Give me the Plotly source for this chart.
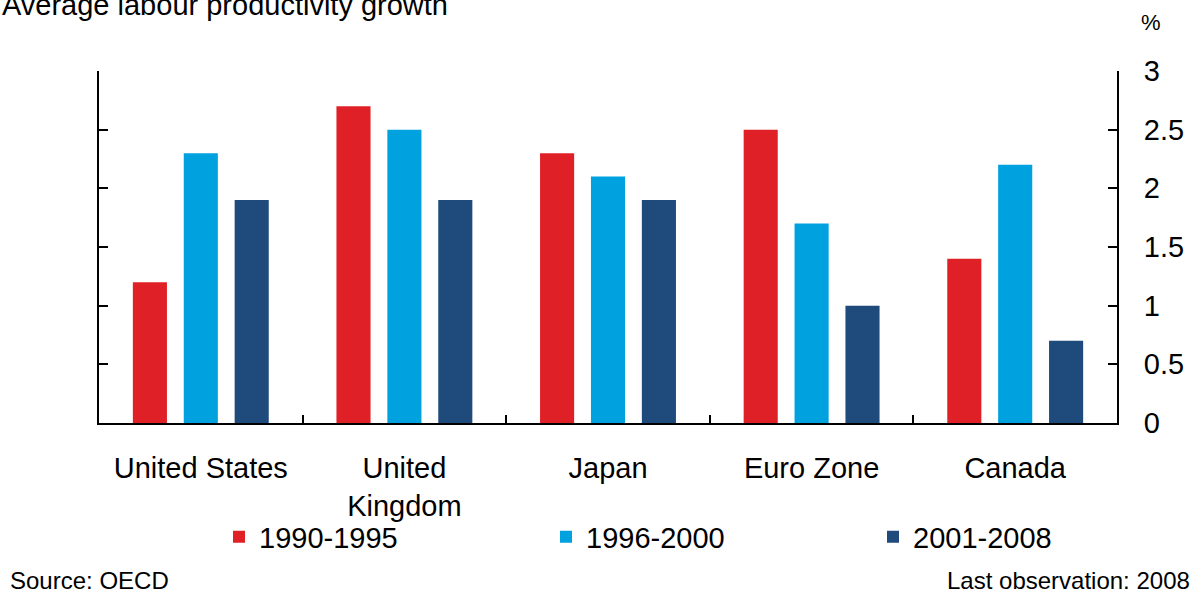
import plotly.graph_objects as go

categories = ["United States", "United<br>Kingdom", "Japan", "Euro Zone", "Canada"]
series_names = ["1990-1995", "1996-2000", "2001-2008"]
vals_1990_1995 = [1.2, 2.7, 2.3, 2.5, 1.4]
vals_1996_2000 = [2.3, 2.5, 2.1, 1.7, 2.2]
vals_2001_2008 = [1.9, 1.9, 1.9, 1.0, 0.7]
colors = ["#E02027", "#00A1DF", "#1F4A7C"]
y_ticks = [0, 0.5, 1, 1.5, 2, 2.5, 3]

FONT = "Liberation Sans, Arial, sans-serif"

W, H = 1202, 595
L, R, T, B = 99, 1202 - 1117, 71, 595 - 423
ph = H - T - B
pw = W - L - R

legend_ids = ["legend", "legend2", "legend3"]
legend_px = [219, 546, 873]

fig = go.Figure()
for name, vals, col, lid in zip(series_names, [vals_1990_1995, vals_1996_2000, vals_2001_2008], colors, legend_ids):
    fig.add_trace(go.Bar(x=categories, y=vals, name=name, legend=lid,
                         marker=dict(color=col, line=dict(width=0))))

legend_common = dict(orientation="h", xanchor="left",
                     y=-(537 - 423) / ph, yanchor="middle",
                     font=dict(family=FONT, size=29, color="black"),
                     itemwidth=30, bgcolor="rgba(0,0,0,0)")

fig.update_layout(
    width=W, height=H,
    margin=dict(l=L, r=R, t=T, b=B, pad=0),
    paper_bgcolor="white", plot_bgcolor="white",
    barmode="group", bargap=0.25, bargroupgap=0.33,
    font=dict(family=FONT, size=29, color="black"),
    showlegend=True,
    legend=dict(x=(legend_px[0] - L) / pw, **legend_common),
    legend2=dict(x=(legend_px[1] - L) / pw, **legend_common),
    legend3=dict(x=(legend_px[2] - L) / pw, **legend_common),
    xaxis=dict(type="category", showline=True, linecolor="black", linewidth=2,
               ticks="inside", ticklen=8, tickwidth=2, tickcolor="black",
               tickson="boundaries", showgrid=False, zeroline=False,
               tickfont=dict(family=FONT, size=29, color="black"),
               ticklabelstandoff=18),
    yaxis=dict(side="right", range=[0, 3], tickvals=y_ticks, showline=True,
               linecolor="black", linewidth=2, mirror="ticks",
               ticks="inside", ticklen=9, tickwidth=2, tickcolor="black",
               showgrid=False, zeroline=False,
               tickfont=dict(family=FONT, size=29, color="black"),
               ticklabelstandoff=19),
)

fig.add_annotation(text="Average labour productivity growth", xref="paper", yref="paper",
                   x=-L / pw, xanchor="left", y=(423 - 5) / ph, yanchor="middle",
                   showarrow=False, font=dict(family=FONT, size=29, color="black"))
fig.add_annotation(text="%", xref="paper", yref="paper",
                   x=(1151 - L) / pw, xanchor="center", y=(423 - 22) / ph, yanchor="middle",
                   showarrow=False, font=dict(family=FONT, size=22, color="black"))
fig.add_annotation(text="Source: OECD", xref="paper", yref="paper",
                   x=(8 - L) / pw, xanchor="left", y=-(580 - 423) / ph, yanchor="middle",
                   showarrow=False, font=dict(family=FONT, size=24, color="black"))
fig.add_annotation(text="Last observation: 2008", xref="paper", yref="paper",
                   x=(1192 - L) / pw, xanchor="right", y=-(580 - 423) / ph, yanchor="middle",
                   showarrow=False, font=dict(family=FONT, size=24, color="black"))

fig.write_html("out.html")
